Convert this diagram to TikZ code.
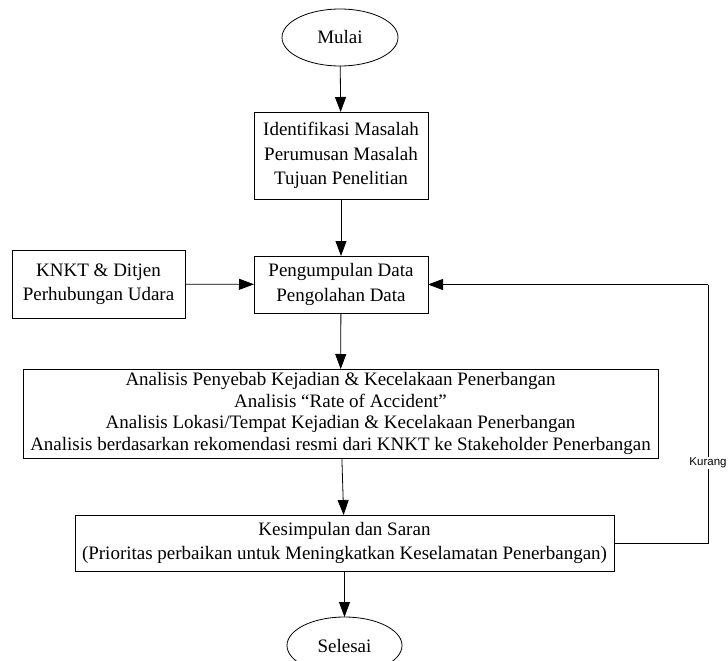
\documentclass[tikz,border=0pt]{standalone}
\usepackage{fontspec}
\setmainfont{Liberation Serif}
\newfontfamily\kurfont{Liberation Sans}
\usetikzlibrary{arrows.meta,shapes.geometric}
\begin{document}
\begin{tikzpicture}[x=1pt,y=-1pt,
  every node/.style={inner sep=0pt, outer sep=0pt, align=center, font=\fontsize{19}{24.5}\selectfont},
  term/.style={draw, ellipse, line width=0.8pt},
  procbox/.style={draw, rectangle, line width=0.8pt},
  arr/.style={draw, line width=0.8pt, -{Triangle[length=15pt,width=11pt]}},
  plainline/.style={draw, line width=0.8pt},
  lbl/.style={fill=white, font=\kurfont\fontsize{11.5}{13}\selectfont, inner sep=1pt}
]
\useasboundingbox (0,0) rectangle (728,661);

\node[term, minimum width=116pt, minimum height=57pt] (mulai) at (340,37.5) {Mulai};
\node[procbox, minimum width=174pt, minimum height=87pt] (idn) at (341,155.5)
  {Identifikasi Masalah\\Perumusan Masalah\\Tujuan Penelitian};
\node[procbox, minimum width=173pt, minimum height=68pt] (knkt) at (98.5,284)
  {KNKT \& Ditjen\\Perhubungan Udara};
\node[procbox, minimum width=174pt, minimum height=57pt] (kumpul) at (341,284.5)
  {Pengumpulan Data\\Pengolahan Data};
\node[procbox, minimum width=635pt, minimum height=89pt, font=\fontsize{19}{21.5}\selectfont] (analisis) at (340.5,413.5)
  {Analisis Penyebab Kejadian \& Kecelakaan Penerbangan\\Analisis “Rate of Accident”\\Analisis Lokasi/Tempat Kejadian \& Kecelakaan Penerbangan\\Analisis berdasarkan rekomendasi resmi dari KNKT ke Stakeholder Penerbangan};
\node[procbox, minimum width=539pt, minimum height=56pt] (simpul) at (344.5,543)
  {Kesimpulan dan Saran\\(Prioritas perbaikan untuk Meningkatkan Keselamatan Penerbangan)};
\node[term, minimum width=115pt, minimum height=57pt] (selesai) at (344.5,645.5) {Selesai};

\coordinate (c1) at (708,543);
\coordinate (c2) at (708,284.5);

\draw[arr] (mulai) -- (idn);
\draw[arr] (idn) -- (kumpul);
\draw[arr] (knkt) -- (kumpul);
\draw[arr] (kumpul) -- (analisis);
\draw[arr] (analisis) -- (simpul);
\draw[arr] (simpul) -- (selesai);
\draw[plainline] (simpul.east) -- (c1) -- node[lbl, pos=0.31] {Kurang} (c2);
\draw[arr] (c2) -- (kumpul.east);
\end{tikzpicture}
\end{document}
